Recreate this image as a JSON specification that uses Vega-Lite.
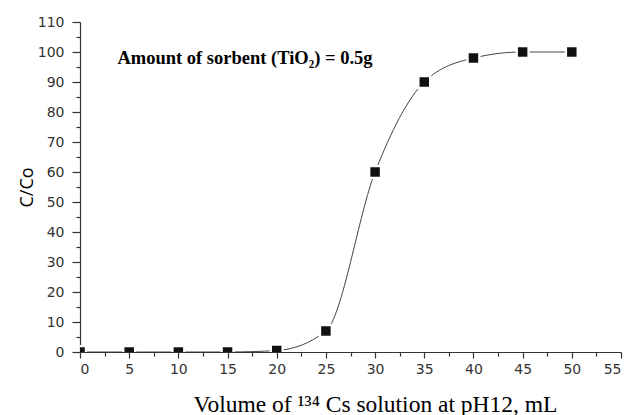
{
  "$schema": "https://vega.github.io/schema/vega-lite/v6.json",
  "width": 541,
  "height": 330,
  "autosize": {"type": "none"},
  "padding": {"left": 80, "top": 22, "right": 9, "bottom": 63},
  "background": "white",
  "config": {
    "view": {"stroke": null},
    "axis": {
      "grid": false,
      "domainColor": "#333",
      "domainWidth": 1.2,
      "tickColor": "#333",
      "tickWidth": 1.2,
      "labelFont": "DejaVu Sans",
      "labelFontSize": 14,
      "labelColor": "#333"
    }
  },
  "data": {
    "values": [
      {"volume": 0, "ratio": 0},
      {"volume": 5, "ratio": 0},
      {"volume": 10, "ratio": 0},
      {"volume": 15, "ratio": 0},
      {"volume": 20, "ratio": 0.5},
      {"volume": 25, "ratio": 7},
      {"volume": 30, "ratio": 60},
      {"volume": 35, "ratio": 90},
      {"volume": 40, "ratio": 98},
      {"volume": 45, "ratio": 100},
      {"volume": 50, "ratio": 100}
    ]
  },
  "resolve": {"axis": {"x": "independent", "y": "independent"}},
  "layer": [
    {
      "mark": {"type": "line", "interpolate": "monotone", "color": "#444", "strokeWidth": 1, "clip": true},
      "encoding": {
        "x": {
          "field": "volume", "type": "quantitative",
          "scale": {"domain": [0, 55], "nice": false},
          "axis": {
            "orient": "bottom",
            "values": [0, 5, 10, 15, 20, 25, 30, 35, 40, 45, 50, 55],
            "tickSize": 6,
            "labelPadding": 4,
            "title": "Volume of \u00b9\u00b3\u2074 Cs solution at pH12, mL",
            "titleFont": "Liberation Serif",
            "titleFontSize": 23.5,
            "titleFontWeight": "normal",
            "titleColor": "#000",
            "titleBaseline": "alphabetic",
            "titleX": 295,
            "titleY": 59
          }
        },
        "y": {
          "field": "ratio", "type": "quantitative",
          "scale": {"domain": [0, 110], "nice": false},
          "axis": {
            "orient": "left",
            "values": [0, 10, 20, 30, 40, 50, 60, 70, 80, 90, 100, 110],
            "tickSize": 8,
            "labelPadding": 8,
            "title": "C/Co",
            "titleFont": "Open Sans",
            "titleFontSize": 18,
            "titleFontWeight": "normal",
            "titleColor": "#000",
            "titlePadding": 1
          }
        }
      }
    },
    {
      "mark": {"type": "point", "shape": "square", "filled": true, "color": "white", "size": 200, "opacity": 1, "clip": true},
      "encoding": {
        "x": {
          "field": "volume", "type": "quantitative",
          "axis": {
            "orient": "bottom",
            "values": [2.5, 7.5, 12.5, 17.5, 22.5, 27.5, 32.5, 37.5, 42.5, 47.5, 52.5],
            "tickSize": 4,
            "labels": false,
            "domain": false,
            "title": null
          }
        },
        "y": {
          "field": "ratio", "type": "quantitative",
          "axis": {
            "orient": "left",
            "values": [5, 15, 25, 35, 45, 55, 65, 75, 85, 95, 105],
            "tickSize": 4,
            "labels": false,
            "domain": false,
            "title": null
          }
        }
      }
    },
    {
      "mark": {"type": "point", "shape": "square", "filled": true, "color": "#111", "size": 90, "opacity": 1, "clip": true},
      "encoding": {
        "x": {"field": "volume", "type": "quantitative", "axis": null},
        "y": {"field": "ratio", "type": "quantitative", "axis": null}
      }
    },
    {
      "data": {"values": [{"volume": 3.8, "ratio": 98, "label": "Amount of sorbent (TiO\u2082) = 0.5g"}]},
      "mark": {"type": "text", "align": "left", "baseline": "middle", "font": "Liberation Serif", "fontWeight": "bold", "fontSize": 18.5, "color": "#000"},
      "encoding": {
        "x": {"field": "volume", "type": "quantitative", "axis": null},
        "y": {"field": "ratio", "type": "quantitative", "axis": null},
        "text": {"field": "label"}
      }
    }
  ]
}
